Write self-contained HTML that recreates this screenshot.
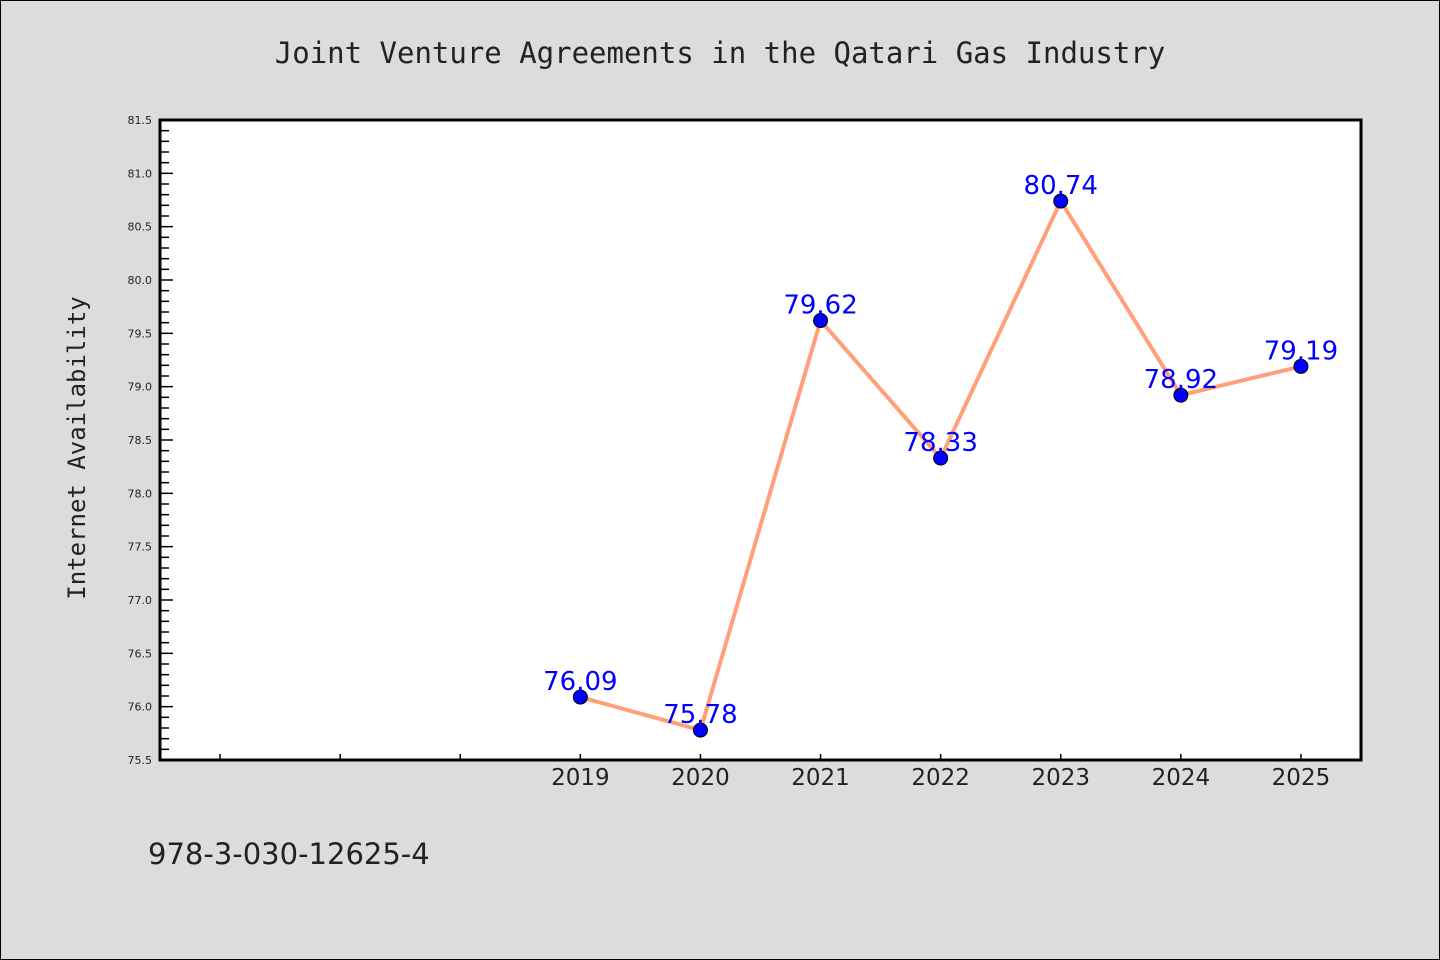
<!DOCTYPE html>
<html><head><meta charset="utf-8"><style>
body{margin:0;background:#dcdcdc;}
svg{display:block;}
</style></head><body>
<svg id="chart" width="1440" height="960" xmlns="http://www.w3.org/2000/svg">
<rect x="0.5" y="0.5" width="1439" height="959" fill="#dcdcdc" stroke="#000" stroke-width="1"/>
<text x="720" y="63" text-anchor="middle" font-family="DejaVu Sans Mono, Liberation Mono, monospace" font-size="29" fill="#222">Joint Venture Agreements in the Qatari Gas Industry</text>
<rect x="160" y="120" width="1201" height="640" fill="#fff"/>
<g id="yticks"></g>
<g id="xticks"></g>
<g id="series"></g>
<rect x="160" y="120" width="1201" height="640" fill="none" stroke="#000" stroke-width="3"/>
<text transform="translate(85,448) rotate(-90)" text-anchor="middle" font-family="DejaVu Sans Mono, Liberation Mono, monospace" font-size="24" fill="#222">Internet Availability</text>
<text x="148" y="864" font-family="DejaVu Sans, Liberation Sans, sans-serif" font-size="29" fill="#222">978-3-030-12625-4</text>
</svg>
<script>
const years = [2019, 2020, 2021, 2022, 2023, 2024, 2025];
const values = [76.09, 75.78, 79.62, 78.33, 80.74, 78.92, 79.19];
const valueLabels = ["76.09", "75.78", "79.62", "78.33", "80.74", "78.92", "79.19"];
const xTicks = [2016, 2017, 2018, 2019, 2020, 2021, 2022, 2023, 2024, 2025];
const xTickLabels = ["", "", "", "2019", "2020", "2021", "2022", "2023", "2024", "2025"];
const yMajor = [75.5, 76.0, 76.5, 77.0, 77.5, 78.0, 78.5, 79.0, 79.5, 80.0, 80.5, 81.0, 81.5];

const NS = "http://www.w3.org/2000/svg";
const X0 = 2015.5, X1 = 2025.5, Y0 = 75.5, Y1 = 81.5;
const L = 160, R = 1361, T = 120, B = 760;
function xs(v){ return L + (v - X0) / (X1 - X0) * (R - L); }
function ys(v){ return B - (v - Y0) / (Y1 - Y0) * (B - T); }
function mk(tag, attrs, parent){ const e = document.createElementNS(NS, tag); for (const k in attrs) e.setAttribute(k, attrs[k]); parent.appendChild(e); return e; }

const yg = document.getElementById('yticks');
for (let i = 0; i <= 60; i++) {
  const v = Y0 + i * 0.1, y = ys(v), major = i % 5 === 0;
  const t = mk('line', {x1: L, x2: L + (major ? 13 : 9), y1: y, y2: y, stroke: '#000', 'stroke-width': 1.5}, yg);
  
  
}
yMajor.forEach(v => {
  const t = mk('text', {x: 152, y: ys(v) + 4, 'text-anchor': 'end', 'font-family': 'DejaVu Sans, sans-serif', 'font-size': 11, fill: '#222'}, yg);
  t.textContent = v.toFixed(1);
  
  
});
const xg = document.getElementById('xticks');
xTicks.forEach((v, i) => {
  const x = xs(v);
  const t = mk('line', {x1: x, x2: x, y1: B, y2: B - 6, stroke: '#000', 'stroke-width': 1.5}, xg);
  
  
  if (xTickLabels[i]) {
    const l = mk('text', {x: x, y: 785, 'text-anchor': 'middle', 'font-family': 'DejaVu Sans, sans-serif', 'font-size': 23, fill: '#222'}, xg);
    l.textContent = xTickLabels[i];
    
    
  }
});
const sg = document.getElementById('series');
const pts = years.map((yr, i) => xs(yr) + ',' + ys(values[i])).join(' ');
const pl = mk('polyline', {points: pts, fill: 'none', stroke: '#ffa07a', 'stroke-width': 4, 'stroke-linejoin': 'round'}, sg);


years.forEach((yr, i) => {
  const c = mk('circle', {cx: xs(yr), cy: ys(values[i]), r: 7, fill: '#0000ff', stroke: '#000', 'stroke-width': 1}, sg);
  
  
  const t = mk('text', {x: xs(yr), y: ys(values[i]) - 7, 'text-anchor': 'middle', 'font-family': 'DejaVu Sans, sans-serif', 'font-size': 26, fill: '#0000ff'}, sg);
  t.textContent = valueLabels[i];
  
  
});
</script>
</body></html>
